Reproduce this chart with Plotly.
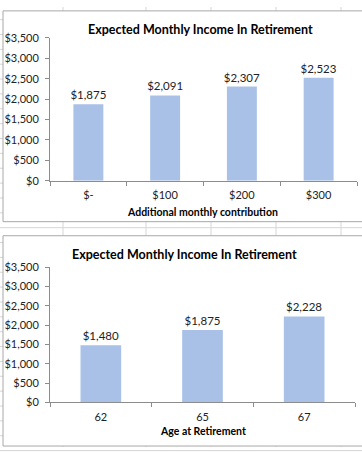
import plotly.graph_objects as go

W, H = 362, 453

# ---- data ----
contrib_labels = ["$-", "$100", "$200", "$300"]
contrib_income = [1875, 2091, 2307, 2523]

age_labels = ["62", "65", "67"]
age_income = [1480, 1875, 2228]

y_ticks = [0, 500, 1000, 1500, 2000, 2500, 3000, 3500]
y_tick_labels = ["$0", "$500", "$1,000", "$1,500", "$2,000", "$2,500", "$3,000", "$3,500"]

chart_title = "Expected Monthly Income In Retirement"
x1_title = "Additional monthly contribution"
x2_title = "Age at Retirement"

FONT = "Lato"
BAR = "#A9C1E7"
AXIS = "#8c8c8c"
TXT = "#222222"

def px(x):
    return x / W

def py(y):
    return 1 - y / H

fig = go.Figure()

fig.add_trace(go.Bar(
    x=contrib_labels, y=contrib_income, xaxis="x", yaxis="y",
    marker=dict(color=BAR, line=dict(width=0)), width=0.39,
    text=[f"${v:,}" for v in contrib_income], textposition="outside",
    constraintext="none",
    textfont=dict(family=FONT, size=11.5, color=TXT), cliponaxis=False,
    hoverinfo="skip",
))
fig.add_trace(go.Bar(
    x=age_labels, y=age_income, xaxis="x2", yaxis="y2",
    marker=dict(color=BAR, line=dict(width=0)), width=0.4,
    text=[f"${v:,}" for v in age_income], textposition="outside",
    constraintext="none",
    textfont=dict(family=FONT, size=11.5, color=TXT), cliponaxis=False,
    hoverinfo="skip",
))

yaxis_common = dict(
    range=[0, 3500], tickmode="array", tickvals=y_ticks, ticktext=y_tick_labels,
    showgrid=False, zeroline=False, showline=True, linecolor=AXIS, linewidth=1,
    ticks="outside", ticklen=4, tickcolor=AXIS, ticklabelstandoff=4,
    tickfont=dict(family=FONT, size=11, color=TXT), fixedrange=True,
)
xaxis_common = dict(
    showgrid=False, zeroline=False, showline=True, linecolor=AXIS, linewidth=1,
    ticks="outside", ticklen=4, tickcolor=AXIS, tickson="boundaries",
    ticklabelstandoff=4,
    tickfont=dict(family=FONT, size=11, color=TXT), fixedrange=True,
)

# spreadsheet background grid
shapes = []
for gx in [63, 146, 211, 276, 341]:
    shapes.append(dict(type="line", xref="paper", yref="paper", x0=px(gx), x1=px(gx),
                       y0=0, y1=1, line=dict(color="#d6d6d6", width=1), layer="below"))
for k in range(30):
    gy = 13 + 15.3 * k
    shapes.append(dict(type="line", xref="paper", yref="paper", x0=0, x1=1,
                       y0=py(gy), y1=py(gy), line=dict(color="#d6d6d6", width=1), layer="below"))
# chart frames
shapes.append(dict(type="rect", xref="paper", yref="paper", x0=px(3), x1=px(370),
                   y0=py(221), y1=py(4), fillcolor="white",
                   line=dict(color="#a8a8a8", width=1), layer="below"))
shapes.append(dict(type="rect", xref="paper", yref="paper", x0=px(3), x1=px(370),
                   y0=py(452), y1=py(235.5), fillcolor="white",
                   line=dict(color="#a8a8a8", width=1), layer="below"))

annotations = [
    dict(text=f"<b>{chart_title}</b>", x=px(200), y=py(23), xref="paper", yref="paper",
         showarrow=False, xanchor="center", yanchor="middle",
         font=dict(family=FONT, size=12.5, color="#000000")),
    dict(text=f"<b>{x1_title}</b>", x=px(203), y=py(211), xref="paper", yref="paper",
         showarrow=False, xanchor="center", yanchor="middle",
         font=dict(family=FONT, size=10.5, color="#000000")),
    dict(text=f"<b>{chart_title}</b>", x=px(184), y=py(255), xref="paper", yref="paper",
         showarrow=False, xanchor="center", yanchor="middle",
         font=dict(family=FONT, size=12.5, color="#000000")),
    dict(text=f"<b>{x2_title}</b>", x=px(203), y=py(437), xref="paper", yref="paper",
         showarrow=False, xanchor="center", yanchor="middle",
         font=dict(family=FONT, size=10.5, color="#000000")),
]

fig.update_layout(
    width=W, height=H, margin=dict(l=0, r=0, t=0, b=0),
    paper_bgcolor="white", plot_bgcolor="rgba(0,0,0,0)",
    showlegend=False, bargap=0.6,
    xaxis=dict(domain=[px(50), px(357)], anchor="y", **xaxis_common),
    yaxis=dict(domain=[py(179), py(31.7)], anchor="x", **yaxis_common),
    xaxis2=dict(domain=[px(50), px(355)], anchor="y2", **xaxis_common),
    yaxis2=dict(domain=[py(407), py(268)], anchor="x2", **yaxis_common),
    shapes=shapes, annotations=annotations,
)

fig.write_html(
    "out.html",
    config=dict(displayModeBar=False),
    post_script="document.body.style.margin='0';document.body.style.overflow='hidden';",
)
